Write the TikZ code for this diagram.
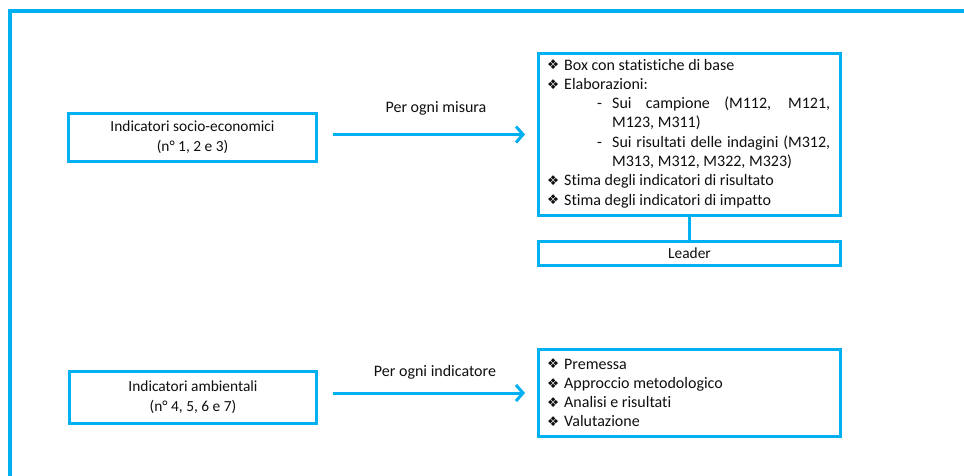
\documentclass[tikz,border=0pt]{standalone}
\usepackage{fontspec}
\setmainfont[Ligatures=NoCommon]{Carlito}
\newfontfamily\dejavu{DejaVu Sans}
\usetikzlibrary{arrows.meta}
\definecolor{sky}{RGB}{0,176,240}
\definecolor{txt}{RGB}{15,15,15}
\newcommand{\bul}{\makebox[17pt][l]{\raisebox{0.3pt}{\dejavu\fontsize{13.5}{14}\selectfont ❖}}}
\begin{document}
\begin{tikzpicture}[x=1pt,y=-1pt,
  box/.style={draw=sky,line width=3pt,inner sep=0pt,fill=white,text=txt,font=\fontsize{15.4}{20}\selectfont},
  line/.style={anchor=base west,inner sep=0pt,text=txt,font=\fontsize{16}{19}\selectfont},
  lbl/.style={inner sep=0pt,text=txt,font=\fontsize{16}{19}\selectfont},
  arr/.style={draw=sky,line width=3pt,-{Straight Barb[length=7pt,width=16pt]},shorten <=15pt,shorten >=12pt},
  link/.style={draw=sky,line width=3pt}]
\useasboundingbox (0,0) rectangle (964,475);
\fill[white] (0,0) rectangle (964,475);
\draw[sky,line width=4pt] (10,490) -- (10,11) -- (980,11);

% top row
\node[box,minimum width=248pt,minimum height=48pt,align=center] (A) at (192.5,137.5) {Indicatori socio-economici\\(n° 1, 2 e 3)};
\node[box,minimum width=302pt,minimum height=162pt] (B) at (689.5,134.5) {};
\node[box,minimum width=302pt,minimum height=24pt] (L) at (689.5,253.5) {Leader};
\draw[link] (B.south) -- (L.north);
\draw[arr] (A.east |- B.west) -- (B.west);
\node[lbl] (m1) at (436,108) {Per ogni misura};

\node[line] (b1) at (547,70) {\bul Box con statistiche di base};
\node[line] (b2) at (547,89.3) {\bul Elaborazioni:};
\node[line] (b3) at (597,108.6) {\makebox[15pt][l]{-}\makebox[218pt][s]{Sui campione (M112, M121,}};
\node[line] (b4) at (612,127.9) {M123, M311)};
\node[line] (b5) at (597,147.2) {\makebox[15pt][l]{-}\makebox[218pt][s]{Sui risultati delle indagini (M312,}};
\node[line] (b6) at (612,166.5) {M313, M312, M322, M323)};
\node[line] (b7) at (547,185.8) {\bul Stima degli indicatori di risultato};
\node[line] (b8) at (547,205.1) {\bul Stima degli indicatori di impatto};

% bottom row
\node[box,minimum width=247pt,minimum height=52pt,align=center] (C) at (193,397.5) {Indicatori ambientali\\(n° 4, 5, 6 e 7)};
\node[box,minimum width=302pt,minimum height=87pt] (D) at (689.5,393) {};
\draw[arr] (C.east |- D.west) -- (D.west);
\node[lbl] (m2) at (435,372) {Per ogni indicatore};

\node[line] (d1) at (547,369) {\bul Premessa};
\node[line] (d2) at (547,388.3) {\bul Approccio metodologico};
\node[line] (d3) at (547,407.6) {\bul Analisi e risultati};
\node[line] (d4) at (547,426.9) {\bul Valutazione};
\end{tikzpicture}
\end{document}
